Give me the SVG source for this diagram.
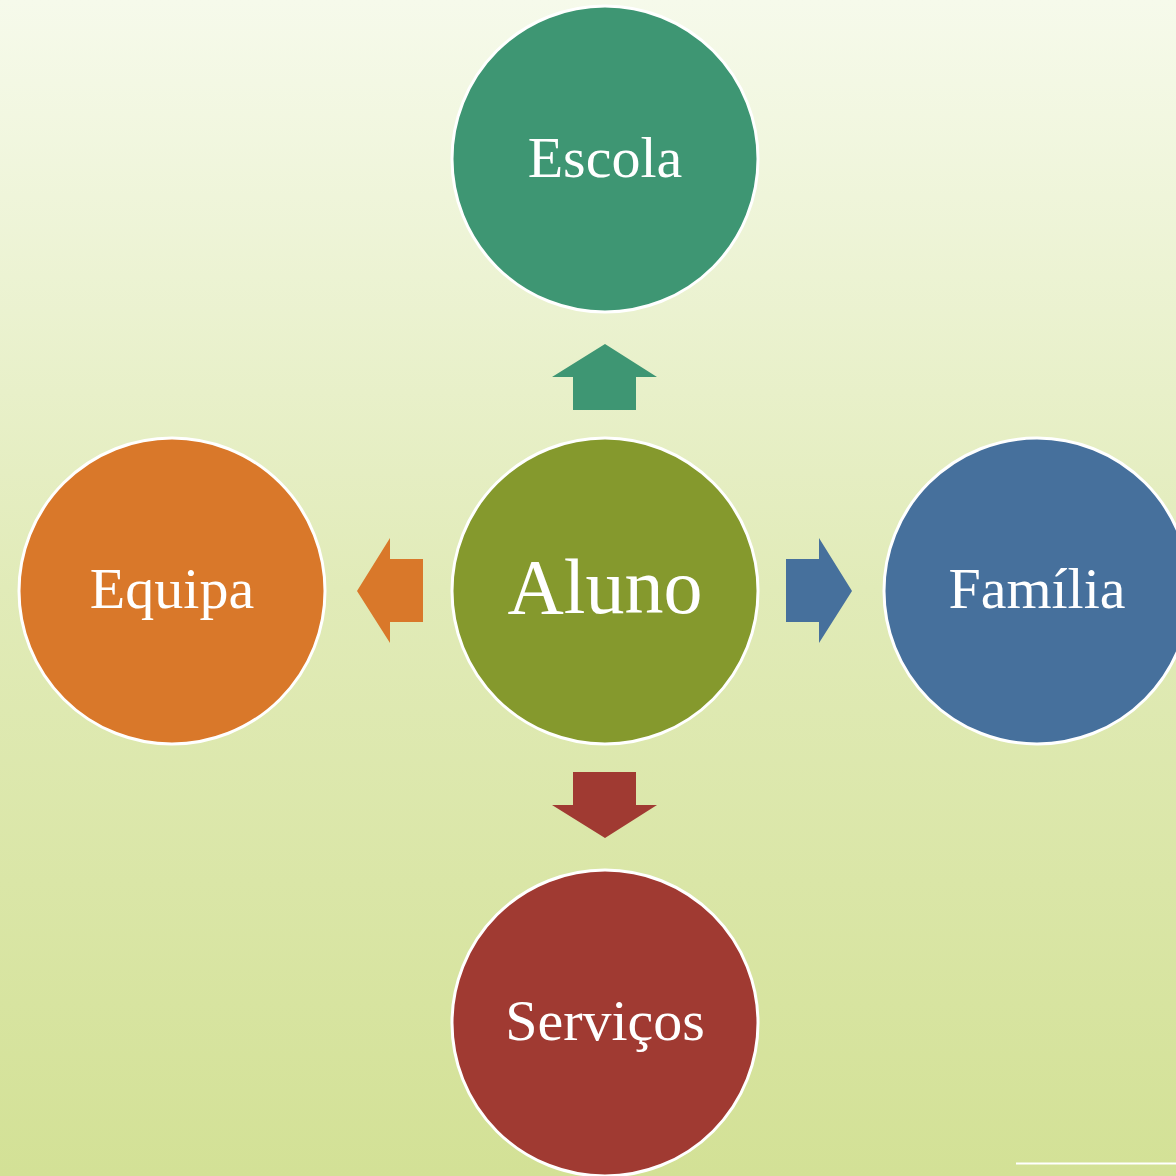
<svg xmlns="http://www.w3.org/2000/svg" width="1176" height="1176" viewBox="0 0 1176 1176">
<defs>
<linearGradient id="bg" x1="0" y1="0" x2="0" y2="1">
<stop offset="0" stop-color="#F6FAEB"/>
<stop offset="0.5" stop-color="#E1EBB8"/>
<stop offset="1" stop-color="#D3E196"/>
</linearGradient>
<style>
.c{stroke:#FFFFFF;stroke-width:3}
.t{font-family:"Liberation Serif",serif;fill:#FFFFFF;text-anchor:middle}
</style>
</defs>
<rect width="1176" height="1176" fill="url(#bg)"/>
<line x1="1016" y1="1163.5" x2="1176" y2="1163.5" stroke="#FFFFFF" stroke-width="2"/>
<g id="connectors">
<polygon points="605,344 657,377 636,377 636,410 573,410 573,377 552,377" fill="#3E9673"/>
<polygon points="357,591 390,538 390,559 423,559 423,622 390,622 390,643" fill="#D9782A"/>
<polygon points="852,591 819,538 819,559 786,559 786,622 819,622 819,643" fill="#46709C"/>
<polygon points="605,838 657,805 636,805 636,772 573,772 573,805 552,805" fill="#A03A32"/>
</g>
<g id="escola"><circle class="c" cx="605" cy="159" r="153" fill="#3E9673"/><text class="t" x="605" y="177" font-size="58">Escola</text></g>
<g id="aluno"><circle class="c" cx="605" cy="591" r="153" fill="#85992D"/><text class="t" x="605" y="613" font-size="78">Aluno</text></g>
<g id="equipa"><circle class="c" cx="172" cy="591" r="153" fill="#D9782A"/><text class="t" x="172" y="608" font-size="58">Equipa</text></g>
<g id="familia"><circle class="c" cx="1037" cy="591" r="153" fill="#46709C"/><text class="t" x="1037" y="608" font-size="58">Família</text></g>
<g id="servicos"><circle class="c" cx="605" cy="1023" r="153" fill="#A03A32"/><text class="t" x="605" y="1040" font-size="58">Serviços</text></g>
</svg>
